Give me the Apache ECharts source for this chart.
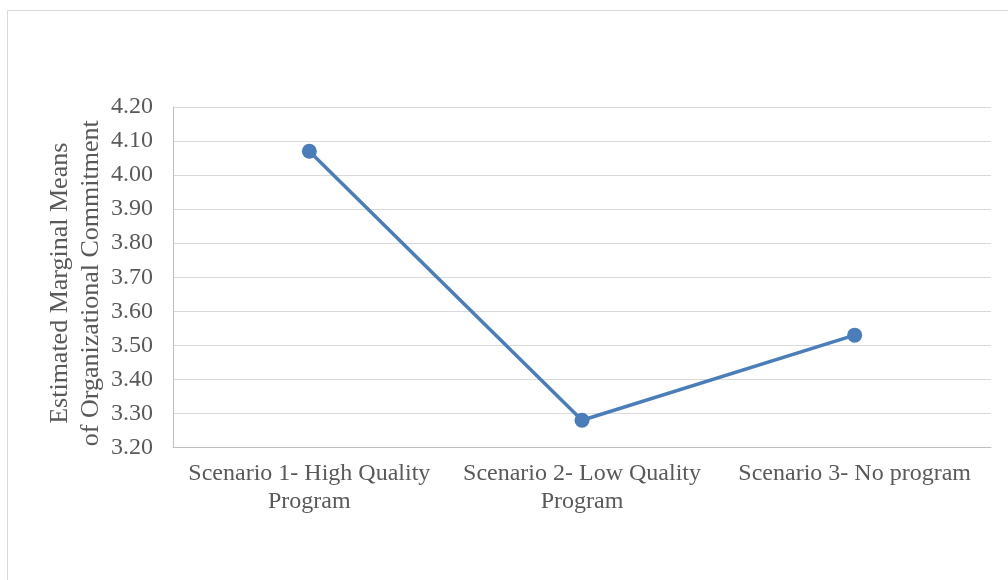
<!DOCTYPE html>
<html>
<head>
<meta charset="utf-8">
<script src="https://cdn.jsdelivr.net/npm/echarts@6/dist/echarts.min.js"></script>
<style>
  html, body { margin: 0; padding: 0; background: #ffffff; }
  #chart { width: 1008px; height: 580px; }
</style>
</head>
<body>
<div id="chart"></div>
<script>
// Scenario labels (line breaks as wrapped under the axis)
const categories = [
  'Scenario 1- High Quality\nProgram',
  'Scenario 2- Low Quality\nProgram',
  'Scenario 3- No program'
];
// Estimated marginal means per scenario
const means = [4.07, 3.28, 3.53];
// Value axis range
const yMin = 3.2;
const yMax = 4.2;
const yStep = 0.1;
const yTitle = 'Estimated Marginal Means\nof Organizational Commitment';

const FONT = "'Liberation Serif', 'Times New Roman', serif";
const TEXT = '#595959';

const chart = echarts.init(document.getElementById('chart'), null, { renderer: 'canvas' });
chart.setOption({
  backgroundColor: '#ffffff',
  animation: false,
  graphic: [{
    type: 'rect',
    shape: { x: 7.5, y: 10.5, width: 1020, height: 600 },
    style: { fill: 'none', stroke: '#d9d9d9', lineWidth: 1 },
    silent: true,
    z: -10
  }],
  grid: { left: 173, right: 17, top: 107, bottom: 132.5, containLabel: false },
  xAxis: {
    type: 'category',
    data: categories,
    boundaryGap: true,
    axisLine: { show: true, lineStyle: { color: '#bfbfbf', width: 1 } },
    axisTick: { show: false },
    axisLabel: {
      color: TEXT, fontFamily: FONT, fontSize: 24, lineHeight: 28,
      margin: 12, interval: 0, align: 'center'
    },
    splitLine: { show: false }
  },
  yAxis: {
    type: 'value',
    min: yMin, max: yMax, interval: yStep,
    name: yTitle,
    nameLocation: 'middle',
    nameRotate: 90,
    nameGap: 66,
    nameMoveOverlap: false,
    nameTextStyle: { color: TEXT, fontFamily: FONT, fontSize: 26, lineHeight: 31, align: 'center', padding: [0, 12, 0, 0] },
    axisLine: { show: true, lineStyle: { color: '#bfbfbf', width: 1 } },
    axisTick: { show: false },
    axisLabel: {
      color: TEXT, fontFamily: FONT, fontSize: 24, margin: 20,
      formatter: v => v.toFixed(2)
    },
    splitLine: { show: true, lineStyle: { color: '#d9d9d9', width: 1 } }
  },
  series: [{
    type: 'line',
    data: means,
    symbol: 'circle',
    symbolSize: 15,
    lineStyle: { color: '#4a7ebb', width: 3.5 },
    itemStyle: { color: '#4a7ebb' },
    label: { show: false }
  }]
});
</script>
</body>
</html>
